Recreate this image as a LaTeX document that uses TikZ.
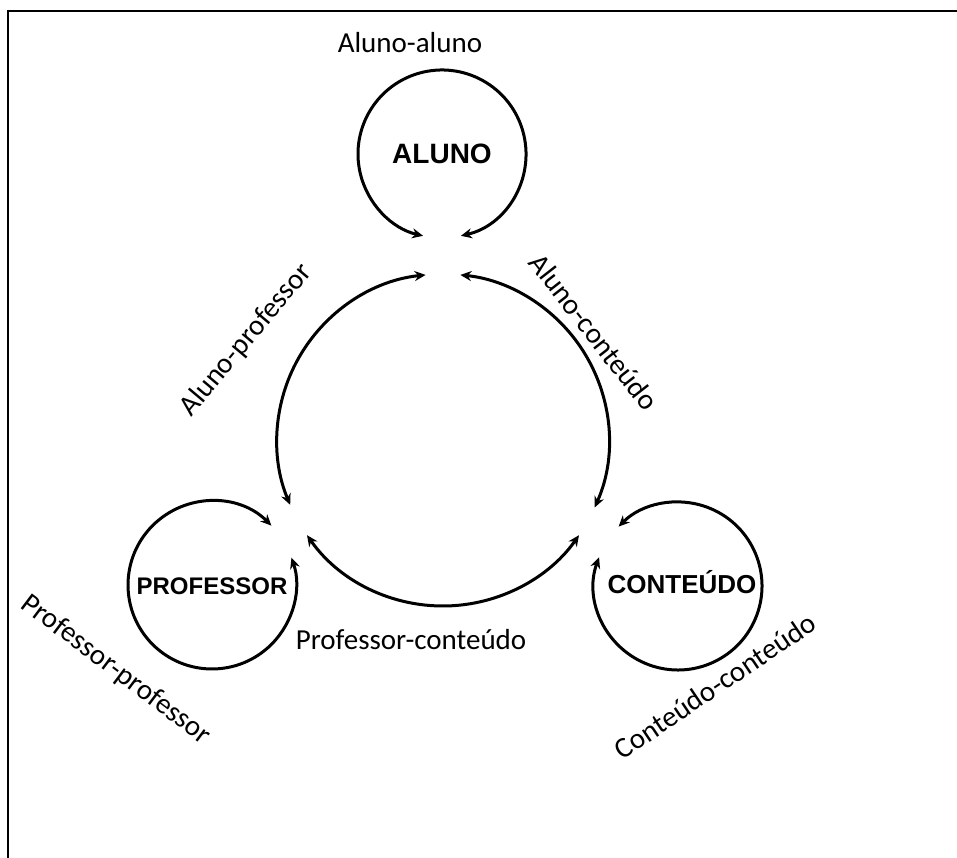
\documentclass[tikz,border=0pt]{standalone}
\usepackage{fontspec}
\setmainfont{Carlito}
\newfontfamily\inner{Liberation Sans}
\usetikzlibrary{arrows.meta}
\tikzset{
  ring/.style={line width=3pt, {Stealth[length=11pt,width=10pt]}-{Stealth[length=11pt,width=10pt]}},
  relabel/.style={font=\fontsize{29}{34}\selectfont, inner sep=0pt},
  boxtext/.style={inner sep=0pt, font=\inner\bfseries}
}
\begin{document}
\begin{tikzpicture}[x=1pt,y=1pt]
\useasboundingbox (0,0) rectangle (957,858);
\draw[line width=2pt] (8,0) -- (8,847) -- (957,847);

% centres
\coordinate (cA) at (442,704);
\coordinate (cP) at (212,273);
\coordinate (cC) at (678,272);
\coordinate (cM) at (443,418);

% inner texts
\node[boxtext, font=\inner\bfseries\fontsize{28}{30}\selectfont] (aluno) at (cA) {ALUNO};
\node[boxtext, font=\inner\bfseries\fontsize{24}{26}\selectfont] (professor) at (212,272) {PROFESSOR};
\node[boxtext, font=\inner\bfseries\fontsize{26}{28}\selectfont] (conteudo) at (682,276) {CONTEÚDO};

% self loops
\draw[ring] ([shift={(-77:84)}]cA) arc[start angle=-77, end angle=257, radius=84];
\draw[ring] ([shift={(45:84)}]cP) arc[start angle=45, end angle=379, radius=84];
\draw[ring] ([shift={(160:84)}]cC) arc[start angle=160, end angle=495, radius=84];

% central arcs
\draw[ring] ([shift={(96:166)}]cM) arc[start angle=96, end angle=203, radius=166];
\draw[ring] ([shift={(-24:166)}]cM) arc[start angle=-24, end angle=84, radius=166];
\draw[ring] ([shift={(215:166)}]cM) arc[start angle=215, end angle=325, radius=166];

% labels
\node[relabel] (laa) at (410,815) {Aluno-aluno};
\node[relabel, rotate=50] (lap) at (246,518) {Aluno-professor};
\node[relabel, rotate=-52] (lac) at (594,526) {Aluno-conteúdo};
\node[relabel] (lpc) at (411,218) {Professor-conteúdo};
\node[relabel, rotate=-37] (lpp) at (116,188) {Professor-professor};
\node[relabel, rotate=34] (lcc) at (715,172) {Conteúdo-conteúdo};
\end{tikzpicture}
\end{document}
